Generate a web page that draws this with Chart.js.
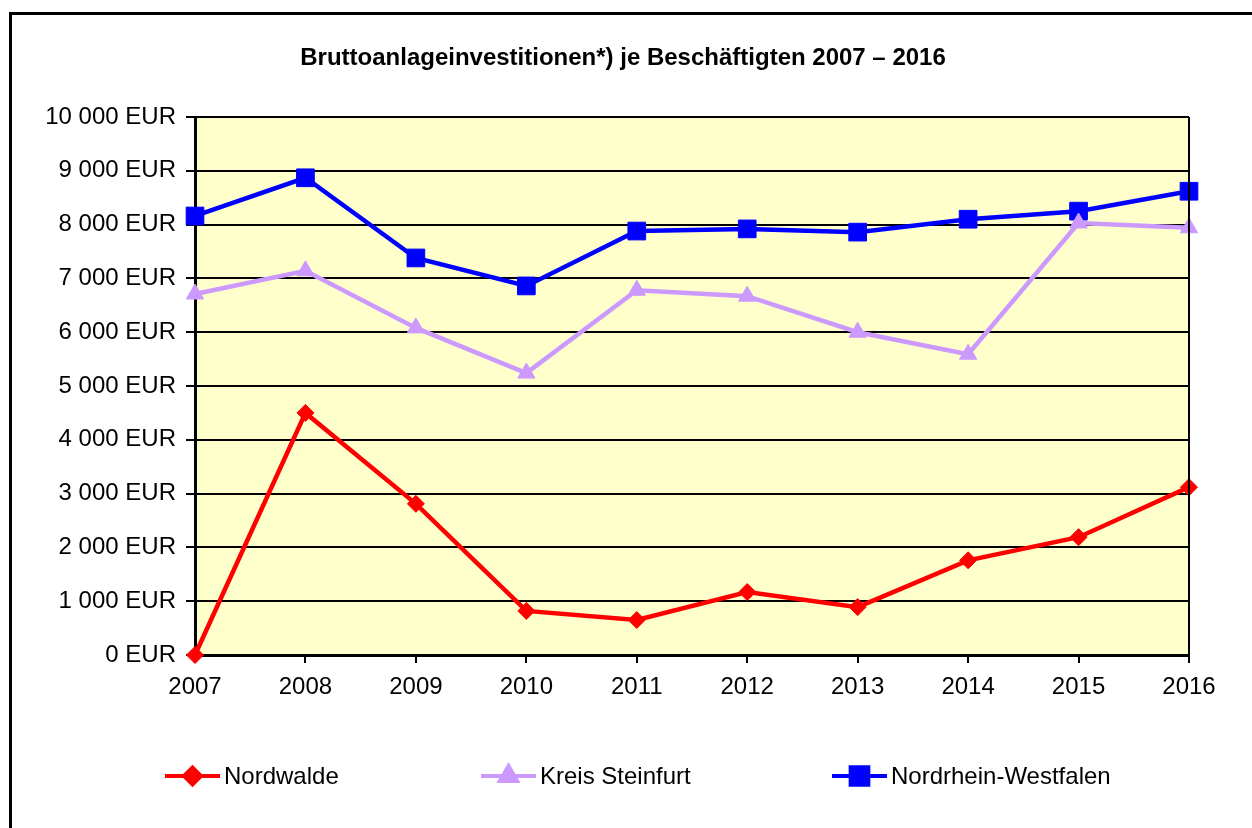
<!DOCTYPE html>
<html>
<head>
<meta charset="utf-8">
<script src="https://cdn.jsdelivr.net/npm/chart.js@4/dist/chart.umd.min.js"></script>
<style>
  html, body { margin:0; padding:0; background:#fff; }
  #wrap { width:1252px; height:828px; position:relative; }
</style>
</head>
<body>
<div id="wrap"><canvas id="chart" width="1252" height="828"></canvas></div>
<script>
// Bruttoanlageinvestitionen je Beschaeftigten - line chart
const years = ['2007','2008','2009','2010','2011','2012','2013','2014','2015','2016'];
const nordwalde = [0, 4500, 2810, 820, 650, 1170, 890, 1760, 2190, 3120];
const kreisSteinfurt = [6710, 7140, 6080, 5240, 6780, 6670, 6000, 5590, 8030, 7940];
const nrw = [8160, 8870, 7380, 6860, 7880, 7920, 7860, 8100, 8250, 8620];
const seriesNames = ['Nordwalde', 'Kreis Steinfurt', 'Nordrhein-Westfalen'];
const titleText = 'Bruttoanlageinvestitionen*) je Beschäftigten 2007 – 2016';

const FONT = "'Liberation Sans', Arial, sans-serif";
const colors = ['#ff0000', '#cc99ff', '#0000ff'];
const styles = ['rectRot', 'triangle', 'rect'];
const radii = [8.5, 10, 12.5];

function fmtEur(v){
  const s = String(Math.round(v)).replace(/\B(?=(\d{3})+(?!\d))/g, ' ');
  return s + ' EUR';
}

// plot background, outer frame, plot border, title, custom legend
const decor = {
  id: 'decor',
  beforeDraw(chart){
    const {ctx, chartArea:a} = chart;
    ctx.save();
    ctx.fillStyle = '#ffffcc';
    ctx.fillRect(a.left, a.top, a.right - a.left, a.bottom - a.top);
    ctx.strokeStyle = '#000';
    ctx.lineWidth = 3;
    ctx.beginPath();
    ctx.moveTo(10.5, 900); ctx.lineTo(10.5, 13.5); ctx.lineTo(1300, 13.5);
    ctx.stroke();
    ctx.restore();
  },
  afterDatasetsDraw(chart){
    const {ctx, chartArea:a} = chart;
    ctx.save();
    ctx.strokeStyle = '#000';
    ctx.lineWidth = 2;
    ctx.beginPath();
    ctx.moveTo(a.right, a.top); ctx.lineTo(a.right, a.bottom);
    ctx.stroke();
    ctx.restore();
  },
  afterDraw(chart){
    const {ctx} = chart;
    ctx.save();
    ctx.fillStyle = '#000';
    ctx.textAlign = 'center';
    ctx.textBaseline = 'middle';
    ctx.font = 'bold 24px ' + FONT;
    ctx.fillText(titleText, 623, 58);

    const xs = [165, 481, 832];
    const y = 776;
    ctx.textAlign = 'left';
    ctx.font = '24px ' + FONT;
    chart.data.datasets.forEach((ds, i) => {
      ctx.strokeStyle = ds.borderColor;
      ctx.lineWidth = 4;
      ctx.beginPath();
      ctx.moveTo(xs[i], y); ctx.lineTo(xs[i] + 55, y);
      ctx.stroke();
      ctx.fillStyle = ds.borderColor;
      ctx.strokeStyle = ds.borderColor;
      Chart.helpers.drawPoint(ctx, {pointStyle: ds.pointStyle, radius: ds.pointRadius, borderWidth: 1, rotation: 0}, xs[i] + 27.5, y);
      ctx.fillStyle = '#000';
      ctx.fillText(seriesNames[i], xs[i] + 59, y + 1);
    });
    ctx.restore();
  }
};

const datasets = [nordwalde, kreisSteinfurt, nrw].map((d, i) => ({
  label: seriesNames[i],
  data: d,
  borderColor: colors[i],
  backgroundColor: colors[i],
  borderWidth: 4.5,
  pointStyle: styles[i],
  pointRadius: radii[i],
  pointHoverRadius: radii[i],
  pointBorderWidth: 1,
  tension: 0,
  clip: false
}));

new Chart(document.getElementById('chart'), {
  type: 'line',
  data: { labels: years, datasets },
  plugins: [decor],
  options: {
    responsive: false,
    animation: false,
    events: [],
    layout: { padding: { left: 20, right: 63, top: 117, bottom: 0 } },
    plugins: {
      legend: { display: false },
      tooltip: { enabled: false },
      title: { display: false }
    },
    scales: {
      x: {
        offset: false,
        grid: { drawOnChartArea: false, drawTicks: true, tickLength: 8, color: '#000', lineWidth: 2 },
        border: { color: '#000', width: 3 },
        ticks: { color: '#000', font: { family: FONT, size: 24 }, padding: 10, maxRotation: 0, autoSkip: false },
        afterFit(scale){ scale.height = 173; }
      },
      y: {
        min: 0, max: 10000,
        grid: { color: '#000', lineWidth: 2, tickLength: 9, drawTicks: true },
        border: { color: '#000', width: 3 },
        ticks: { stepSize: 1000, color: '#000', font: { family: FONT, size: 24 }, padding: 10, callback: v => fmtEur(v) },
        afterFit(scale){ scale.width = 175; }
      }
    }
  }
});
</script>
</body>
</html>
